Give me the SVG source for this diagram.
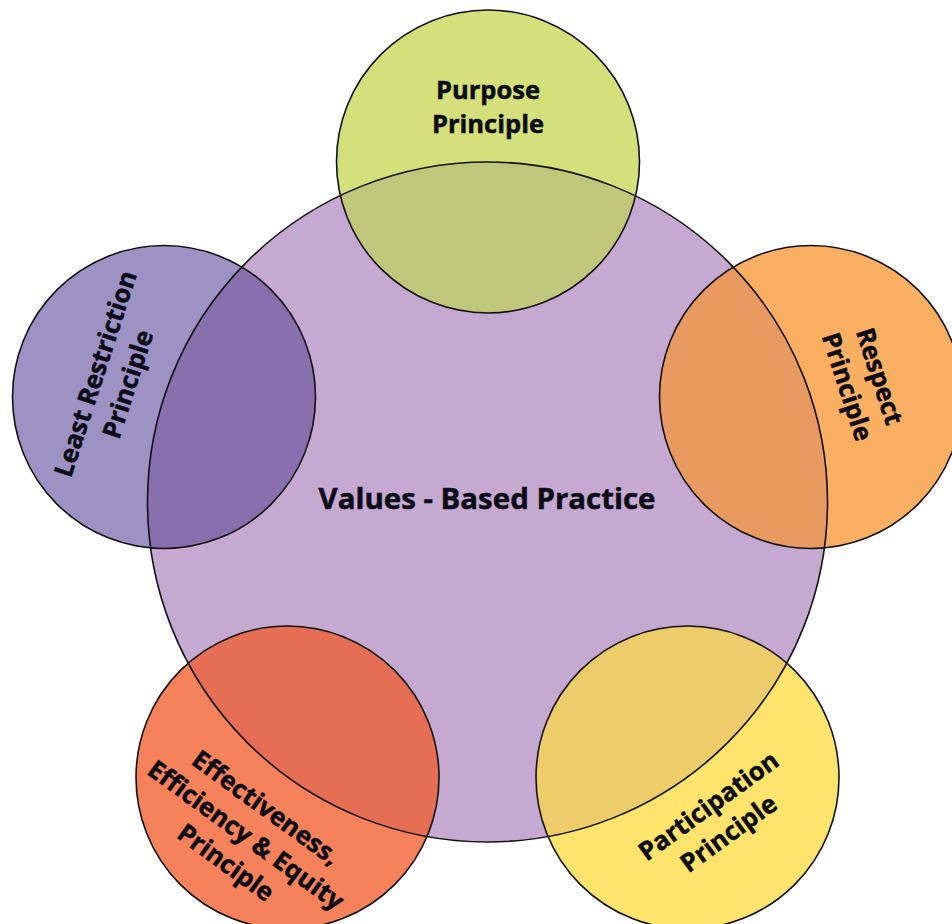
<svg xmlns="http://www.w3.org/2000/svg" width="952" height="924" viewBox="0 0 952 924">
<style>
.ln{fill:none;stroke:#111;stroke-width:1.6}
.t{font-family:"Open Sans","Liberation Sans",sans-serif;font-weight:bold;font-size:25.5px;fill:#0c0c18;stroke:#0c0c18;stroke-width:0.5;text-anchor:middle}
.tc{font-size:29px}
</style>
<defs>
<clipPath id="big"><circle cx="487.5" cy="502" r="340"/></clipPath>
</defs>
<rect width="952" height="924" fill="#ffffff"/>
<g id="values-based-practice">
<circle cx="487.5" cy="502" r="340" fill="#C6A9D1"/>
</g>
<g id="purpose">
<circle cx="488" cy="161.5" r="151.5" fill="#D3E07C"/>
<circle cx="488" cy="161.5" r="151.5" fill="#BFC77B" clip-path="url(#big)"/>
</g>
<g id="respect">
<circle cx="811" cy="397" r="151.5" fill="#FBAF62"/>
<circle cx="811" cy="397" r="151.5" fill="#E89A60" clip-path="url(#big)"/>
</g>
<g id="participation">
<circle cx="687.5" cy="777.5" r="151.5" fill="#FEE46D"/>
<circle cx="687.5" cy="777.5" r="151.5" fill="#EFCC6A" clip-path="url(#big)"/>
</g>
<g id="effectiveness">
<circle cx="287.5" cy="777.5" r="151.5" fill="#F5825A"/>
<circle cx="287.5" cy="777.5" r="151.5" fill="#E56E55" clip-path="url(#big)"/>
</g>
<g id="least-restriction">
<circle cx="164" cy="397" r="151.5" fill="#9C93C4"/>
<circle cx="164" cy="397" r="151.5" fill="#8870AE" clip-path="url(#big)"/>
</g>
<g id="outlines">
<circle class="ln" cx="487.5" cy="502" r="340"/>
<circle class="ln" cx="488" cy="161.5" r="151.5"/>
<circle class="ln" cx="811" cy="397" r="151.5"/>
<circle class="ln" cx="687.5" cy="777.5" r="151.5"/>
<circle class="ln" cx="287.5" cy="777.5" r="151.5"/>
<circle class="ln" cx="164" cy="397" r="151.5"/>
</g>
<g id="labels">
<text class="t tc" x="487" y="509" textLength="337" lengthAdjust="spacingAndGlyphs">Values - Based Practice</text>
<text class="t" x="488" y="99">Purpose<tspan x="488" y="133">Principle</tspan></text>
<text class="t" transform="translate(863.5 381.5) rotate(72)"><tspan x="0" y="-8">Respect</tspan><tspan x="0" y="26">Principle</tspan></text>
<text class="t" transform="translate(718.5 819.5) rotate(-36)"><tspan x="0" y="-8">Participation</tspan><tspan x="0" y="26">Principle</tspan></text>
<text class="t" transform="translate(246 835) rotate(36)"><tspan x="0" y="-25">Effectiveness,</tspan><tspan x="0" y="9">Efficiency &amp; Equity</tspan><tspan x="0" y="43">Principle</tspan></text>
<text class="t" transform="translate(111.5 379) rotate(-72)"><tspan x="0" y="-8">Least Restriction</tspan><tspan x="0" y="26">Principle</tspan></text>
</g>
</svg>
